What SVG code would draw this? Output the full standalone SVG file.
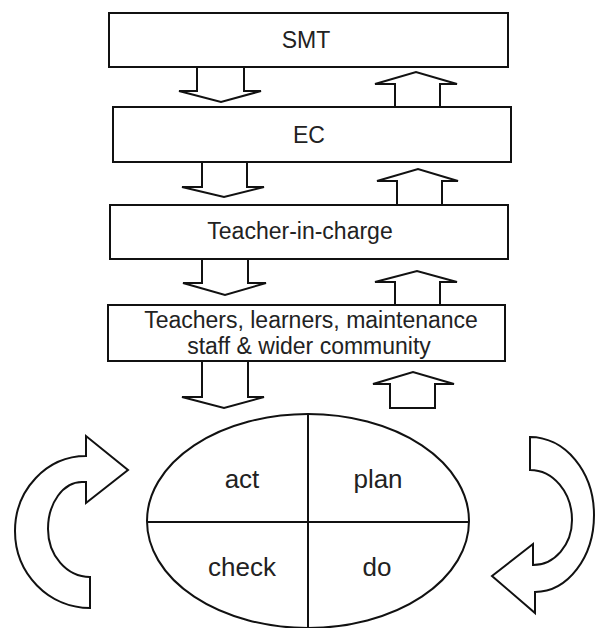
<svg xmlns="http://www.w3.org/2000/svg" width="598" height="628" viewBox="0 0 598 628">
<style>
.box{fill:#fff;stroke:#111;stroke-width:2}
.arr{fill:#fff;stroke:#111;stroke-width:2;stroke-linejoin:miter}
.t{font-family:"Liberation Sans",Arial,sans-serif;font-size:23px;fill:#222;text-anchor:middle}
.e{font-family:"Liberation Sans",Arial,sans-serif;font-size:26px;fill:#222;text-anchor:middle}
</style>
<rect width="598" height="628" fill="#fff"/>
<g id="connectors">
<polygon class="arr" points="197,67 244,67 244,91 261,91 221,102 179,91 197,91"/>
<polygon class="arr" points="395,107 395,84 375,84 416,72 457,84 440,84 440,107"/>
<polygon class="arr" points="202,162 247,162 247,187 264,187 224,197 182,187 202,187"/>
<polygon class="arr" points="397,205 397,181 377,181 418,169 458,181 442,181 442,205"/>
<polygon class="arr" points="202,259 248,259 248,283 266,283 225,295 183,283 202,283"/>
<polygon class="arr" points="395,305 395,282 375,282 417,271 457,282 440,282 440,305"/>
<polygon class="arr" points="202,361 248,361 248,397 264,397 224,408 182,397 202,397"/>
<polygon class="arr" points="390,408 390,384 373,384 413,372 454,384 435,384 435,408"/>
<path id="cycle-left" class="arr" d="M 86 456 A 71 75 0 0 0 15 531 A 75 77 0 0 0 90 608 L 90 577 A 42 48 0 0 1 48 529 A 34 47 0 0 1 82 482 L 86 482 L 86 503 L 128 470 L 86 436 Z"/>
<path id="cycle-right" class="arr" d="M 530 437 A 64 78 0 0 1 594 515 A 59 77 0 0 1 535 592 L 535 613 L 492 576 L 533 544 L 533 565 A 39 45 0 0 0 572 520 A 42 50 0 0 0 530 470 Z"/>
</g>
<g id="smt">
<rect class="box" x="109" y="13" width="399" height="54"/>
<text class="t" x="306" y="48">SMT</text>
</g>
<g id="ec">
<rect class="box" x="113" y="107" width="398" height="55"/>
<text class="t" x="309" y="143">EC</text>
</g>
<g id="teacher-in-charge">
<rect class="box" x="110" y="205" width="398" height="54"/>
<text class="t" x="300" y="239">Teacher-in-charge</text>
</g>
<g id="community">
<rect class="box" x="108" y="305" width="397" height="56"/>
<text class="t" x="311" y="328">Teachers, learners, maintenance</text>
<text class="t" x="309" y="354">staff &amp; wider community</text>
</g>
<g id="pdca">
<ellipse class="box" cx="308" cy="521" rx="161" ry="107"/>
<line x1="308" y1="414" x2="308" y2="628" stroke="#111" stroke-width="2"/>
<line x1="147" y1="522" x2="469" y2="522" stroke="#111" stroke-width="2"/>
<text class="e" x="242" y="488">act</text>
<text class="e" x="378" y="488">plan</text>
<text class="e" x="242" y="576">check</text>
<text class="e" x="377" y="576">do</text>
</g>
</svg>
